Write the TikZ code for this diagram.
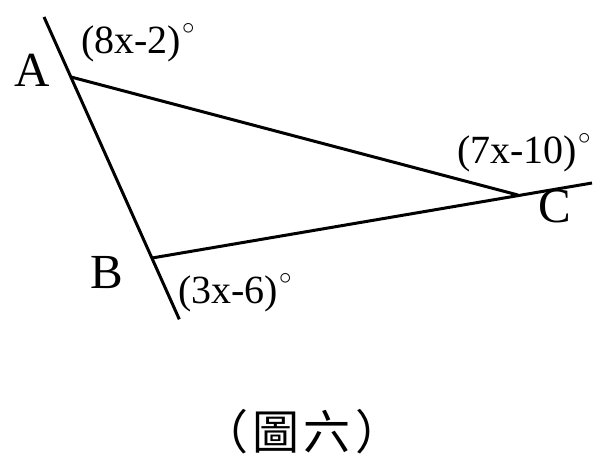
\documentclass[tikz,border=0pt]{standalone}
\usepackage{fontspec}
\setmainfont{Liberation Serif}
\newfontfamily\cjkfont{Noto Sans CJK TC}
\newcommand{\degring}{\hspace{1pt}\raisebox{19pt}{\fontsize{28}{28}\selectfont$\circ$}}
\begin{document}
\begin{tikzpicture}[x=1pt,y=-1pt,
  edge/.style={line width=3pt},
  vlabel/.style={anchor=base west,inner sep=0pt,font=\fontsize{49}{49}\selectfont},
  alabel/.style={anchor=base west,inner sep=0pt,font=\fontsize{40}{40}\selectfont},
  caption/.style={anchor=center,inner sep=0pt,font=\fontsize{47}{47}\selectfont\cjkfont}]
\useasboundingbox (0,0) rectangle (610,469);
\coordinate (P1) at (44,17);
\coordinate (A) at (71,77);
\coordinate (B) at (152,258);
\coordinate (P2) at (179.3,319.3);
\coordinate (C) at (518,195);
\coordinate (P3) at (592,183);
\draw[edge] (P1) -- (P2);
\draw[edge] (B) -- (P3);
\draw[edge] (A) -- (C);
\node[vlabel] (la) at (14,86) {A};
\node[vlabel] (lb) at (90,288) {B};
\node[vlabel] (lc) at (538,222) {C};
\node[alabel] (a1) at (81,53) {(8x-2)\degring};
\node[alabel] (a2) at (178,303) {(3x-6)\degring};
\node[alabel] (a3) at (457,163) {(7x-10)\degring};
\node[caption] (cap) at (302,432) {（\hspace{5pt}圖\hspace{4pt}六\hspace{5pt}）};
\end{tikzpicture}
\end{document}
